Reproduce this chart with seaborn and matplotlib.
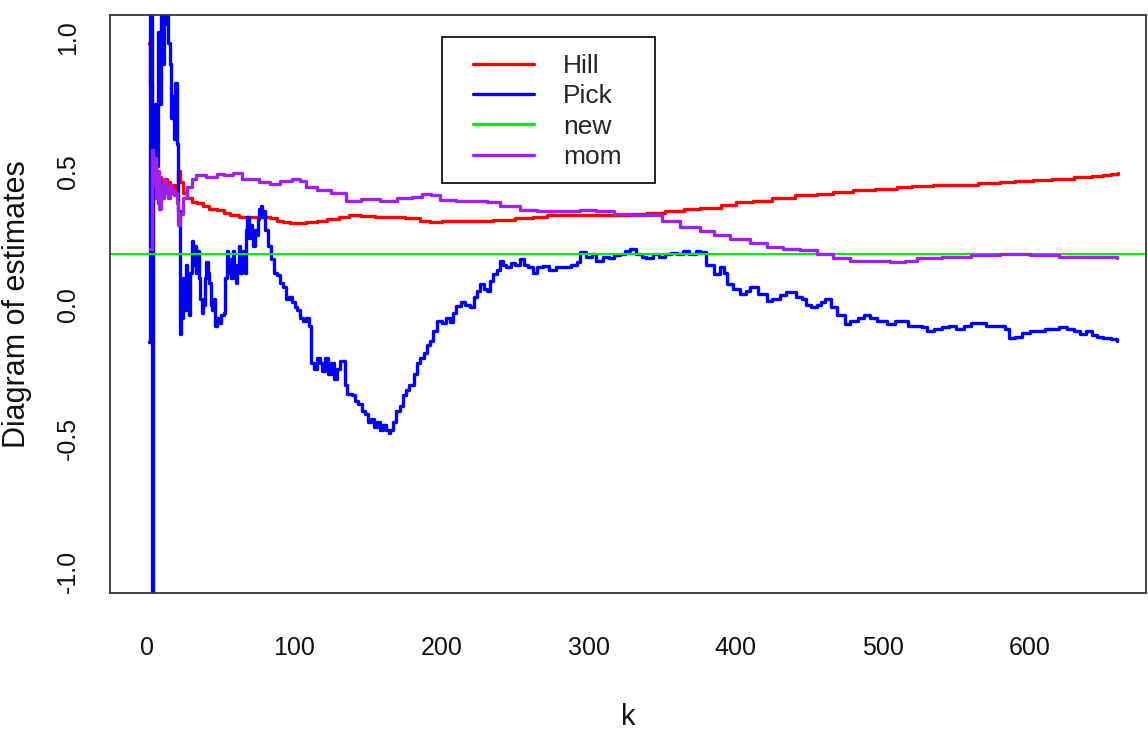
import matplotlib
matplotlib.use("Agg")
import matplotlib.pyplot as plt
from matplotlib.patches import Rectangle
from matplotlib import font_manager
import seaborn as sns
import pandas as pd

# ---- estimates by number of upper order statistics k ----
hill_k = [1, 2, 3, 4, 5, 6, 7, 8, 9, 10, 11, 12, 13, 14, 15, 16, 17, 18, 19, 20,
          21, 22, 24, 27, 30, 34, 38, 42, 47, 52, 56, 62, 70, 78, 83, 88, 92, 97,
          103, 108, 115, 122, 130, 137, 145, 155, 165, 175, 185, 192, 200, 210,
          220, 235, 250, 262, 272, 285, 300, 317, 330, 340, 352, 365, 376, 390,
          400, 412, 425, 440, 455, 466, 480, 495, 510, 520, 534, 550, 565, 580,
          590, 602, 615, 630, 642, 650, 655, 660]
hill_val = [0.98, 0.83, 0.66, 0.40, 0.56, 0.45, 0.38, 0.48, 0.42, 0.46, 0.44, 0.47,
            0.43, 0.46, 0.42, 0.45, 0.43, 0.45, 0.42, 0.44, 0.50, 0.46, 0.42, 0.40,
            0.385, 0.38, 0.37, 0.36, 0.355, 0.345, 0.335, 0.33, 0.328, 0.33, 0.325,
            0.315, 0.31, 0.305, 0.305, 0.31, 0.315, 0.32, 0.33, 0.334, 0.333, 0.33,
            0.33, 0.325, 0.312, 0.31, 0.312, 0.315, 0.315, 0.318, 0.325, 0.33,
            0.334, 0.334, 0.334, 0.335, 0.34, 0.345, 0.352, 0.358, 0.363, 0.375,
            0.385, 0.39, 0.40, 0.41, 0.415, 0.421, 0.43, 0.435, 0.44, 0.443, 0.447,
            0.45, 0.455, 0.46, 0.463, 0.468, 0.472, 0.478, 0.482, 0.485, 0.49, 0.492]

mom_k = [2, 3, 4, 5, 6, 7, 8, 9, 10, 11, 12, 13, 14, 15, 16, 17, 18, 19, 20, 21,
         22, 24, 27, 30, 33, 40, 47, 52, 58, 64, 70, 76, 83, 90, 98, 104, 108, 115,
         125, 135, 145, 158, 170, 180, 187, 193, 199, 210, 220, 231, 240, 253, 265,
         280, 294, 305, 317, 330, 340, 350, 362, 376, 385, 396, 410, 421, 432, 444,
         455, 466, 478, 490, 505, 515, 523, 540, 560, 580, 600, 620, 640, 659]
mom_val = [0.21, 0.58, 0.45, 0.55, 0.40, 0.50, 0.36, 0.45, 0.40, 0.47, 0.42, 0.44,
           0.40, 0.45, 0.42, 0.43, 0.41, 0.42, 0.38, 0.30, 0.34, 0.40, 0.44, 0.47,
           0.485, 0.48, 0.49, 0.485, 0.495, 0.47, 0.47, 0.46, 0.453, 0.462, 0.47,
           0.465, 0.44, 0.43, 0.42, 0.39, 0.395, 0.39, 0.40, 0.405, 0.415, 0.41,
           0.393, 0.39, 0.387, 0.384, 0.37, 0.353, 0.35, 0.352, 0.355, 0.35, 0.34,
           0.335, 0.334, 0.315, 0.29, 0.275, 0.26, 0.245, 0.23, 0.215, 0.21, 0.203,
           0.19, 0.175, 0.165, 0.163, 0.16, 0.165, 0.175, 0.18, 0.185, 0.19, 0.185,
           0.18, 0.178, 0.175]

pick_k = [1, 2, 3, 4, 5, 6, 7, 8, 9, 10, 11, 12, 13, 14, 15, 16, 17, 18, 19, 20,
          21, 22, 23, 24, 25, 26, 27, 28, 29, 30, 31, 32, 33, 34, 35, 36, 37, 38,
          39, 40, 41, 42, 43, 44, 45, 46, 47, 48, 50, 52, 53, 54, 55, 56, 57, 58,
          59, 60, 61, 62, 63, 64, 65, 66, 67, 68, 69, 70, 71, 72, 73, 74, 75, 76,
          77, 78, 79, 80, 82, 84, 86, 88, 90, 92, 94, 96, 98, 100, 102, 104, 106,
          108, 110, 111, 113, 115, 117, 119, 121, 123, 125, 127, 129, 131, 134,
          136, 139, 141, 143, 146, 148, 150, 152, 154, 156, 158, 160, 162, 164,
          165, 167, 169, 172, 174, 176, 178, 181, 183, 185, 188, 190, 192, 194,
          197, 200, 203, 206, 208, 210, 213, 216, 219, 222, 224, 226, 229, 231,
          233, 235, 238, 240, 242, 244, 247, 250, 253, 256, 259, 262, 265, 269,
          273, 278, 283, 288, 292, 294, 298, 302, 305, 310, 314, 317, 321, 325,
          328, 332, 336, 339, 344, 348, 352, 356, 360, 364, 368, 373, 376, 380,
          385, 389, 392, 394, 398, 403, 407, 410, 415, 421, 425, 430, 434, 437,
          441, 445, 448, 451, 455, 458, 461, 465, 469, 474, 478, 483, 487, 491,
          496, 503, 508, 512, 517, 522, 527, 530, 535, 540, 545, 550, 555, 560,
          564, 570, 575, 580, 583, 586, 590, 595, 600, 605, 610, 615, 620, 625,
          630, 634, 638, 642, 646, 650, 655, 659]
pick_val = [-0.14, 1.30, -1.30, 0.60, 0.75, 0.52, 1.02, 0.75, 1.20, 0.90, 1.25,
            1.05, 1.15, 0.98, 0.90, 0.70, 0.78, 0.62, 0.83, 0.60, 0.35, -0.11,
            -0.05, 0.10, -0.02, 0.15, 0.05, -0.04, 0.12, 0.24, 0.15, 0.22, 0.12,
            0.20, 0.10, 0.02, -0.03, 0.00, 0.10, 0.16, 0.12, 0.08, 0.00, -0.02,
            0.02, -0.08, -0.05, -0.07, -0.04, -0.03, 0.10, 0.20, 0.12, 0.17, 0.10,
            0.20, 0.14, 0.08, 0.15, 0.22, 0.12, 0.18, 0.20, 0.12, 0.28, 0.33, 0.25,
            0.30, 0.27, 0.22, 0.28, 0.26, 0.32, 0.36, 0.37, 0.33, 0.35, 0.28, 0.22,
            0.17, 0.12, 0.11, 0.08, 0.066, 0.02, 0.03, 0.01, -0.01, -0.02, -0.05,
            -0.06, -0.05, -0.08, -0.22, -0.24, -0.20, -0.22, -0.25, -0.20, -0.26,
            -0.22, -0.28, -0.24, -0.21, -0.30, -0.335, -0.34, -0.36, -0.372, -0.40,
            -0.41, -0.44, -0.43, -0.46, -0.44, -0.47, -0.45, -0.47, -0.48, -0.47,
            -0.44, -0.40, -0.38, -0.34, -0.32, -0.30, -0.26, -0.22, -0.20, -0.18,
            -0.15, -0.135, -0.10, -0.06, -0.07, -0.05, -0.065, -0.03, -0.004, 0.01,
            0.00, -0.01, 0.03, 0.05, 0.077, 0.06, 0.05, 0.09, 0.115, 0.13, 0.165,
            0.15, 0.14, 0.155, 0.15, 0.172, 0.15, 0.14, 0.12, 0.14, 0.145, 0.13,
            0.14, 0.14, 0.15, 0.16, 0.196, 0.18, 0.19, 0.165, 0.18, 0.175, 0.185,
            0.19, 0.20, 0.209, 0.19, 0.18, 0.176, 0.19, 0.18, 0.19, 0.195, 0.19,
            0.20, 0.19, 0.20, 0.196, 0.15, 0.115, 0.14, 0.12, 0.077, 0.06, 0.04,
            0.05, 0.065, 0.04, 0.015, 0.02, 0.035, 0.048, 0.046, 0.03, 0.02, 0.00,
            -0.01, 0.00, 0.01, 0.02, -0.01, -0.04, -0.072, -0.06, -0.05, -0.04,
            -0.05, -0.06, -0.072, -0.06, -0.06, -0.08, -0.08, -0.085, -0.098, -0.09,
            -0.085, -0.08, -0.09, -0.08, -0.07, -0.07, -0.08, -0.08, -0.08, -0.09,
            -0.123, -0.12, -0.105, -0.098, -0.10, -0.09, -0.09, -0.085, -0.09,
            -0.10, -0.11, -0.10, -0.115, -0.12, -0.125, -0.13, -0.135]

new_val = 0.19

series_labels = ["Hill", "Pick", "new", "mom"]
series_colors = ["#FF0000", "#0000FF", "#00EE00", "#A020F0"]

x_ticks = [0, 100, 200, 300, 400, 500, 600]
y_ticks = [-1.0, -0.5, 0.0, 0.5, 1.0]
y_tick_labels = ["-1.0", "-0.5", "0.0", "0.5", "1.0"]

# ---- style ----
sns.set_style("white")
installed = {f.name for f in font_manager.fontManager.ttflist}
narrow = "Liberation Sans Narrow" if "Liberation Sans Narrow" in installed else "Liberation Sans"
plt.rcParams["font.family"] = ["Liberation Sans", "DejaVu Sans"]
txt = "#111111"

W, H = 1148, 732
fig = plt.figure(figsize=(W / 100, H / 100), dpi=100)
fig.patch.set_facecolor("white")
ax = fig.add_axes([110 / W, 1 - 593 / H, (1146 - 110) / W, (593 - 15) / H])

hill = pd.DataFrame({"k": hill_k, "est": hill_val})
pick = pd.DataFrame({"k": pick_k, "est": pick_val})
mom = pd.DataFrame({"k": mom_k, "est": mom_val})

lw = 2.4
common = dict(ax=ax, lw=lw, estimator=None, sort=False, drawstyle="steps-post")
sns.lineplot(data=hill, x="k", y="est", color=series_colors[0],
             label=series_labels[0], **common)
sns.lineplot(data=pick, x="k", y="est", color=series_colors[1],
             label=series_labels[1], **common)
ax.axhline(new_val, color=series_colors[2], lw=1.5, label=series_labels[2])
sns.lineplot(data=mom, x="k", y="est", color=series_colors[3],
             label=series_labels[3], **common)

ax.set_xlim(-25.5, 679)
ax.set_ylim(-1.08, 1.085)

for s in ax.spines.values():
    s.set_visible(True)
    s.set_color("#333333")
    s.set_linewidth(1.3)

ax.set_xticks(x_ticks)
ax.set_xticklabels([str(t) for t in x_ticks], fontsize=18, family=[narrow, "DejaVu Sans"])
ax.set_yticks(y_ticks)
ax.set_yticklabels(y_tick_labels, fontsize=18, rotation=90, va="center")
ax.tick_params(axis="x", length=13, width=1.2, color="#333333", pad=18, labelcolor=txt)
ax.tick_params(axis="y", length=9.5, width=1.2, color="#333333", pad=12, labelcolor=txt)

ax.set_xlabel("k", fontsize=21, family=[narrow, "DejaVu Sans"], color=txt)
ax.xaxis.set_label_coords(0.5, -0.19)
ax.set_ylabel("Diagram of estimates", fontsize=22, color=txt)
ax.yaxis.set_label_coords(-0.0753, 0.5)

# legend: box drawn as its own frame, entries placed inside it
frame = Rectangle((442 / W, 1 - 183 / H), (655 - 442) / W, (183 - 37) / H,
                  transform=fig.transFigure, facecolor="white", edgecolor=txt,
                  lw=1.3, zorder=5, clip_on=False)
ax.add_patch(frame)

handles, labels = ax.get_legend_handles_labels()
order = [labels.index(l) for l in series_labels]
leg = ax.legend([handles[i] for i in order], [labels[i] for i in order],
                loc="upper left", bbox_to_anchor=(473 / W, 1 - 54 / H),
                bbox_transform=fig.transFigure, borderaxespad=0, borderpad=0,
                frameon=False, handlelength=2.3, handletextpad=1.1,
                labelspacing=0.24,
                prop={"family": [narrow, "DejaVu Sans"], "size": 19})
leg.set_zorder(6)
for line in leg.get_lines():
    line.set_linewidth(2.4)

fig.savefig("out.png", dpi=100, facecolor="white")
